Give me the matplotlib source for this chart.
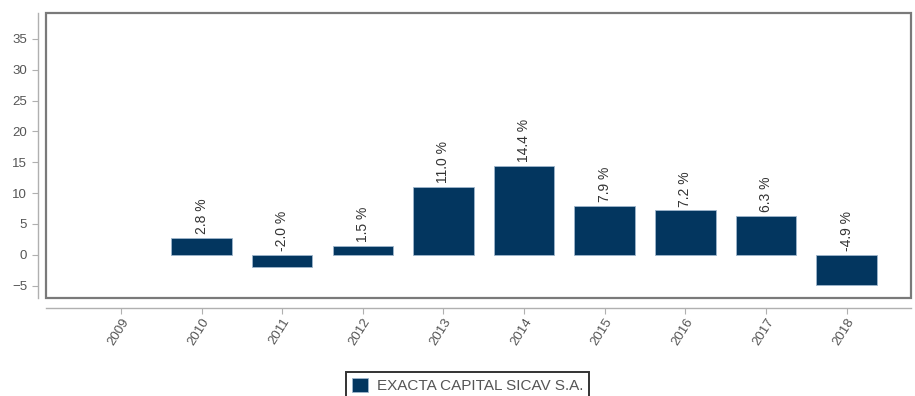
import numpy as np
import matplotlib.pyplot as plt
from matplotlib.patches import Rectangle

plt.rcParams['font.family'] = ['Liberation Sans', 'DejaVu Sans']

years = ['2009', '2010', '2011', '2012', '2013', '2014', '2015', '2016', '2017', '2018']
returns = [np.nan, 2.8, -2.0, 1.5, 11.0, 14.4, 7.9, 7.2, 6.3, -4.9]
series_name = 'EXACTA CAPITAL SICAV S.A.'

navy = '#03365f'
grey_txt = '#555555'
W, H = 915, 396

fig = plt.figure(figsize=(W / 100, H / 100), dpi=100)
ax = fig.add_axes([46 / W, (H - 298) / H, (911 - 46) / W, (298 - 13) / H])

x = np.arange(len(years))
vals = np.array(returns, dtype=float)
has = ~np.isnan(vals)
ax.bar(x[has], vals[has], width=0.75, color=navy, edgecolor='#9fb6cc',
       linewidth=0.6, label=series_name, zorder=2)

for xi, v in zip(x[has], vals[has]):
    ax.text(xi, max(v, 0) + 0.6, f'{v:.1f} %', rotation=90, ha='center', va='bottom',
            fontsize=10, color='#333333')

ax.set_xlim(-0.93, 9.8)
ax.set_ylim(-7.0, 39.2)
ax.set_yticks(range(-5, 40, 5))
ax.set_xticks(x)

for s in ['top', 'right']:
    ax.spines[s].set_visible(False)
ax.spines['left'].set_position(('outward', 6))
ax.spines['bottom'].set_position(('outward', 7))
for s in ['left', 'bottom']:
    ax.spines[s].set_color('#b0b0b0')
    ax.spines[s].set_linewidth(1.0)

ax.tick_params(axis='both', colors='#b0b0b0', labelcolor=grey_txt, labelsize=9.5,
               length=4, width=0.8)
ax.tick_params(axis='x', pad=2)
ax.set_xticklabels(years, rotation=58, ha='right', rotation_mode='anchor')

ax.add_patch(Rectangle((0, 0), 1, 1, transform=ax.transAxes, fill=False,
                       edgecolor='#7a7a7a', linewidth=1.6, clip_on=False, zorder=5))

leg = fig.legend(loc='upper left', bbox_to_anchor=(338 / W, 1 - 364 / H),
                 frameon=True, fancybox=False, fontsize=11, handlelength=1.05,
                 handleheight=1.05, borderpad=0.4, handletextpad=0.6)
leg.get_frame().set_edgecolor('black')
leg.get_frame().set_linewidth(1.4)
for t in leg.get_texts():
    t.set_color(grey_txt)

fig.savefig('out.png', dpi=100)
